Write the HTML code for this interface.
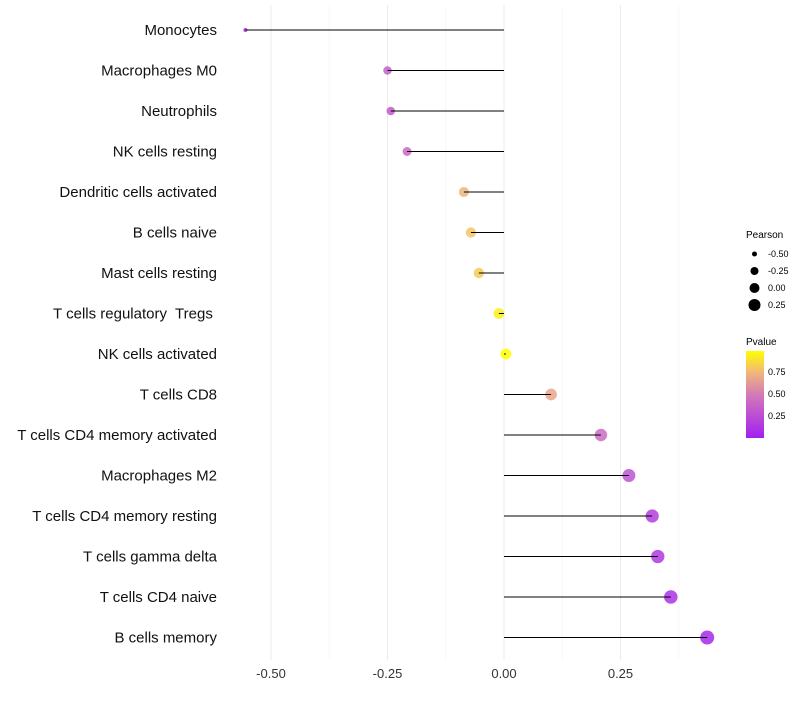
<!DOCTYPE html>
<html><head><meta charset="utf-8"><style>
body{margin:0;background:#fff;font-family:"Liberation Sans",sans-serif}
</style></head><body>
<svg id="chart" width="800" height="700" xmlns="http://www.w3.org/2000/svg">
<g id="grid"></g>
<g id="ylabels"></g>
<g id="marks"></g>
<g id="xticks"></g>
<g font-size="9" fill="#000">
  <text x="746" y="238" font-size="10">Pearson</text>
  <circle cx="754.5" cy="254" r="2.5"/><text x="768" y="257">-0.50</text>
  <circle cx="754.5" cy="271" r="4"/><text x="768" y="274">-0.25</text>
  <circle cx="754.5" cy="288" r="5"/><text x="768" y="291">0.00</text>
  <circle cx="754.5" cy="305" r="6"/><text x="768" y="308">0.25</text>
</g>
<g font-size="9">
  <defs><linearGradient id="pg" x1="0" y1="1" x2="0" y2="0">
    <stop offset="0" stop-color="#a21ff0"/><stop offset="0.5" stop-color="#d37ab8"/><stop offset="0.75" stop-color="#f0b67a"/><stop offset="1" stop-color="#ffff00"/>
  </linearGradient></defs>
  <text x="746" y="345" font-size="10">Pvalue</text>
  <rect x="746" y="351" width="18" height="87" fill="url(#pg)"/>
  <text x="768" y="375">0.75</text>
  <text x="768" y="397">0.50</text>
  <text x="768" y="419">0.25</text>
</g>
</svg>
<script>
const categories=["Monocytes","Macrophages M0","Neutrophils","NK cells resting","Dendritic cells activated","B cells naive","Mast cells resting","T cells regulatory  Tregs ","NK cells activated","T cells CD8","T cells CD4 memory activated","Macrophages M2","T cells CD4 memory resting","T cells gamma delta","T cells CD4 naive","B cells memory"];
const pearson=[-0.555,-0.25,-0.243,-0.208,-0.086,-0.071,-0.054,-0.011,0.004,0.101,0.208,0.268,0.318,0.330,0.358,0.436];
const pvalue=[0.05,0.35,0.33,0.4,0.75,0.8,0.82,0.95,1.0,0.68,0.42,0.28,0.17,0.14,0.1,0.05];
const xTicks=[-0.5,-0.25,0,0.25];
const xTickLabels=["-0.50","-0.25","0.00","0.25"];
const minorTicks=[-0.375,-0.125,0.125,0.375];
const NS="http://www.w3.org/2000/svg";
const xs=v=>504+v*466;
const ys=i=>30+i*40.5;
const rs=v=>Math.sqrt(Math.max(3,29.4+45.7*v));
function lerp(a,b,t){return a.map((x,i)=>Math.round(x+(b[i]-x)*t));}
const stops=[[0,[162,31,240]],[0.5,[211,122,184]],[0.75,[240,182,122]],[1,[255,255,0]]];
function col(p){for(let k=0;k<stops.length-1;k++){if(p<=stops[k+1][0]){const t=(p-stops[k][0])/(stops[k+1][0]-stops[k][0]);const c=lerp(stops[k][1],stops[k+1][1],t);return `rgb(${c})`;}}return "rgb(255,255,0)";}
function mk(tag,attrs,parent){const e=document.createElementNS(NS,tag);for(const k in attrs)e.setAttribute(k,attrs[k]);parent.appendChild(e);return e;}
const grid=document.getElementById('grid'),yl=document.getElementById('ylabels'),marks=document.getElementById('marks'),xt=document.getElementById('xticks');
minorTicks.forEach(v=>{const l=mk('line',{x1:xs(v),x2:xs(v),y1:5,y2:660,stroke:'#f4f4f4','stroke-width':0.6},grid);

});
xTicks.forEach((v,i)=>{const l=mk('line',{x1:xs(v),x2:xs(v),y1:5,y2:660,stroke:'#ebebeb','stroke-width':1},grid);


const t=mk('text',{x:xs(v),y:678,'text-anchor':'middle','font-size':13,fill:'#333'},xt);t.textContent=xTickLabels[i];

});
categories.forEach((c,i)=>{const y=ys(i);
const t=mk('text',{x:217,y:y+5,'text-anchor':'end','font-size':15,fill:'#111',style:'white-space:pre'},yl);t.textContent=c;


const d=mk('circle',{cx:xs(pearson[i]),cy:y,r:rs(pearson[i]),fill:col(pvalue[i]),'fill-opacity':0.85},marks);


const l=mk('line',{x1:xs(0),x2:xs(pearson[i]),y1:y,y2:y,stroke:'#000','stroke-width':1},marks);

});
</script>
</body></html>
